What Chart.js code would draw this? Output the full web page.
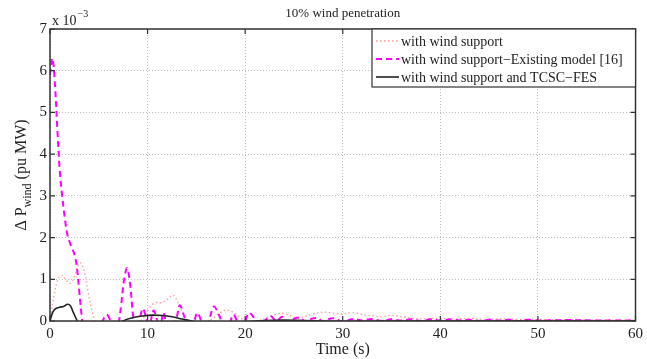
<!DOCTYPE html>
<html lang="en">
  <head>
    <meta charset="UTF-8" />
    <title>10% wind penetration</title>
    <script src="https://cdn.jsdelivr.net/npm/chart.js"></script>
    <style>
      body { margin: 0; background: #fff; }
      #wrap { width: 647px; height: 359px; }
    </style>
    <script>
      // values in units of 1e-3 pu MW; negative parts are clipped by the axis
      var tPink = [0, 0.4, 0.8, 1.2, 1.6, 2.0, 2.4, 2.8, 3.1, 3.5, 3.9, 4.3, 4.7, 5.5, 6.5, 7.5, 8.5, 9.3, 9.7, 10.1, 10.5, 11.0, 11.5, 12.0, 12.6, 13.0, 13.5, 14.0, 14.8, 15.8, 16.6, 17.3, 18.0, 18.7, 19.4, 20.0, 20.8, 21.6, 22.4, 23.2, 23.8, 24.5, 25.3, 26.0, 26.8, 27.6, 28.4, 29.2, 30.0, 30.8, 31.6, 32.4, 33.2, 34.0, 34.8, 35.6, 36.4, 37.2, 38.0, 39.0, 40.0, 41.5, 43, 44.5, 46, 48, 50, 52, 54, 56, 58, 60];
      var pink = [0, 0.6, 1.0, 1.1, 1.0, 0.9, 1.0, 1.3, 1.4, 1.2, 0.7, 0.25, -0.1, -0.5, -0.6, -0.4, -0.15, 0.0, 0.12, 0.28, 0.4, 0.45, 0.44, 0.52, 0.62, 0.5, 0.25, 0.0, -0.2, -0.1, 0.05, 0.18, 0.26, 0.22, 0.1, 0.0, -0.05, 0.02, 0.1, 0.16, 0.19, 0.14, 0.08, 0.1, 0.16, 0.2, 0.21, 0.18, 0.17, 0.2, 0.18, 0.14, 0.12, 0.1, 0.13, 0.12, 0.09, 0.06, 0.05, 0.06, 0.06, 0.05, 0.06, 0.04, 0.05, 0.04, 0.04, 0.03, 0.03, 0.02, 0.02, 0.02];

      var tMag = [0, 0.25, 0.5, 0.75, 1.0, 1.25, 1.5, 1.75, 2.0, 2.25, 2.5, 2.75, 3.0, 3.25, 3.5, 4.0, 4.5, 5.0, 5.4, 5.8, 6.2, 6.6, 7.0, 7.3, 7.6, 7.9, 8.2, 8.5, 8.8, 9.1, 9.5, 9.9, 10.2, 10.6, 11.0, 11.3, 11.6, 12.0, 12.5, 13.0, 13.3, 13.7, 14.2, 14.7, 15.1, 15.5, 16.0, 16.4, 16.8, 17.3, 17.8, 18.3, 18.8, 19.3, 19.8, 20.4, 21.0, 21.6, 22.2, 22.6, 23.2, 23.8, 24.4, 25.0, 25.6, 26.2, 26.8, 27.4, 28.0, 28.6, 29.2, 30, 31, 32, 33, 34, 35, 36, 37, 38, 39, 40, 41, 42, 43, 44, 45, 46, 47, 48, 49, 50, 52, 54, 56, 58, 60];
      var mag = [5.9, 6.3, 5.7, 4.6, 3.6, 3.0, 2.5, 2.1, 1.9, 1.75, 1.6, 1.3, 0.7, 0.1, -0.5, -0.9, -0.8, -0.3, 0.0, 0.15, 0.0, -0.4, -0.1, 0.4, 1.0, 1.27, 0.9, 0.15, -0.3, -0.1, 0.3, 0.05, -0.1, 0.25, 0.0, -0.2, 0.2, -0.1, -0.3, 0.1, 0.38, 0.15, -0.2, -0.05, 0.2, 0.0, -0.2, 0.1, 0.35, 0.15, -0.1, -0.1, 0.15, -0.05, -0.1, 0.2, 0.05, -0.1, 0.05, 0.12, 0.0, 0.1, -0.05, 0.05, 0.08, -0.03, 0.05, 0.07, -0.02, 0.05, 0.06, -0.02, 0.05, 0.01, 0.05, 0.0, 0.04, 0.01, 0.04, 0.0, 0.04, 0.01, 0.04, 0.01, 0.03, 0.0, 0.03, 0.01, 0.03, 0.0, 0.03, 0.01, 0.02, 0.02, 0.01, 0.01, 0.01];

      var tBlack = [0, 0.3, 0.6, 1.0, 1.4, 1.8, 2.1, 2.4, 2.8, 3.5, 4.5, 5.5, 6.5, 7.5, 8.5, 9.5, 10.5, 11.5, 12.5, 13.5, 14.5, 16, 18, 20, 22, 24, 26, 28, 30, 35, 40, 50, 60];
      var black = [0, 0.22, 0.3, 0.33, 0.35, 0.4, 0.36, 0.2, 0.0, -0.3, -0.45, -0.4, -0.2, 0.0, 0.08, 0.12, 0.14, 0.13, 0.1, 0.05, 0.0, -0.06, -0.05, -0.02, 0.01, 0.02, 0.01, 0.0, -0.01, 0.0, 0.0, 0.0, 0.0];

      var seriesNames = ["with wind support", "with wind support\u2212Existing model [16]", "with wind support and TCSC\u2212FES"];
      var xTicks = [0, 10, 20, 30, 40, 50, 60];
      var yTicks = [0, 1, 2, 3, 4, 5, 6, 7];
    </script>
  </head>
  <body>
    <div id="wrap"><canvas id="myChart" width="647" height="359"></canvas></div>
    <script>
      function pts(t, v) {
        return t.map(function (x, i) { return { x: x, y: v[i] }; });
      }

      var serif = "'Liberation Serif', 'DejaVu Serif', serif";

      var styles = [
        { color: "#ff9a9a", width: 1.3, dash: [1.5, 2.5] },
        { color: "#ff00ff", width: 2, dash: [6, 4] },
        { color: "#222222", width: 1.6, dash: [] },
      ];

      // title, frame, inner ticks, exponent, y title, legend
      var decor = {
        id: "decor",
        afterDraw: function (chart) {
          var ctx = chart.ctx;
          var a = chart.chartArea;
          var xs = chart.scales.x, ys = chart.scales.y;
          ctx.save();
          ctx.strokeStyle = "#333";
          ctx.lineWidth = 1.5;
          ctx.setLineDash([]);
          ctx.strokeRect(a.left, a.top, a.right - a.left, a.bottom - a.top);
          ctx.lineWidth = 1.2;
          ctx.beginPath();
          xTicks.forEach(function (v) {
            var px = xs.getPixelForValue(v);
            ctx.moveTo(px, a.bottom); ctx.lineTo(px, a.bottom - 5);
            ctx.moveTo(px, a.top); ctx.lineTo(px, a.top + 5);
          });
          yTicks.forEach(function (v) {
            var py = ys.getPixelForValue(v);
            ctx.moveTo(a.left, py); ctx.lineTo(a.left + 5, py);
            ctx.moveTo(a.right, py); ctx.lineTo(a.right - 5, py);
          });
          ctx.stroke();

          ctx.fillStyle = "#222";
          ctx.textBaseline = "alphabetic";
          ctx.textAlign = "center";
          ctx.font = "13px " + serif;
          ctx.fillText("10% wind penetration", (a.left + a.right) / 2, 17);

          ctx.textAlign = "left";
          ctx.font = "14px " + serif;
          ctx.fillText("x 10", a.left + 2, a.top - 4);
          var w = ctx.measureText("x 10").width;
          ctx.font = "10px " + serif;
          ctx.fillText("\u22123", a.left + 2 + w + 1, a.top - 12);

          // y axis title with subscript
          ctx.save();
          ctx.translate(26, (a.top + a.bottom) / 2);
          ctx.rotate(-Math.PI / 2);
          var p1 = "\u0394 P", p3 = " (pu MW)";
          ctx.font = "16px " + serif;
          var w1 = ctx.measureText(p1).width, w3 = ctx.measureText(p3).width;
          ctx.font = "12px " + serif;
          var w2 = ctx.measureText("wind").width;
          var x0 = -(w1 + w2 + w3) / 2;
          ctx.font = "16px " + serif;
          ctx.fillText(p1, x0, 0);
          ctx.font = "12px " + serif;
          ctx.fillText("wind", x0 + w1, 5);
          ctx.font = "16px " + serif;
          ctx.fillText(p3, x0 + w1 + w2, 0);
          ctx.restore();

          // legend box
          var lx = 372, ly = a.top, lw = a.right - lx, lh = 58;
          ctx.fillStyle = "#fff";
          ctx.fillRect(lx, ly, lw, lh);
          ctx.strokeStyle = "#333";
          ctx.lineWidth = 1.2;
          ctx.strokeRect(lx, ly, lw, lh);
          ctx.font = "14px " + serif;
          ctx.textBaseline = "middle";
          seriesNames.forEach(function (name, i) {
            var yy = ly + 12 + i * 18;
            var s = styles[i];
            ctx.strokeStyle = s.color;
            ctx.lineWidth = s.width;
            ctx.setLineDash(s.dash);
            ctx.beginPath();
            ctx.moveTo(lx + 4, yy); ctx.lineTo(lx + 27, yy);
            ctx.stroke();
            ctx.setLineDash([]);
            ctx.fillStyle = "#222";
            ctx.fillText(name, lx + 29, yy + 1);
          });
          ctx.restore();
        },
      };

      var ctx = document.getElementById("myChart").getContext("2d");
      var myChart = new Chart(ctx, {
        type: "line",
        data: {
          datasets: [
            { label: seriesNames[0], data: pts(tPink, pink), order: 3 },
            { label: seriesNames[1], data: pts(tMag, mag), order: 2 },
            { label: seriesNames[2], data: pts(tBlack, black), order: 1 },
          ].map(function (d, i) {
            d.borderColor = styles[i].color;
            d.borderWidth = styles[i].width;
            d.borderDash = styles[i].dash;
            d.pointRadius = 0;
            d.fill = false;
            d.tension = 0.35;
            return d;
          }),
        },
        options: {
          responsive: false,
          animation: false,
          layout: { padding: { top: 29, right: 10, left: 0, bottom: 0 } },
          plugins: {
            legend: { display: false },
            tooltip: { enabled: false },
            title: { display: false },
          },
          scales: {
            x: {
              type: "linear",
              min: 0,
              max: 60,
              afterBuildTicks: function (s) { s.ticks = xTicks.map(function (v) { return { value: v }; }); },
              afterFit: function (s) { s.height = 38; },
              grid: { color: "#bdbdbd", drawTicks: false, lineWidth: 1 },
              border: { display: false, dash: [1, 2] },
              ticks: { color: "#222", padding: 4, font: { family: serif, size: 15 }, maxRotation: 0 },
              title: {
                display: true,
                text: "Time (s)",
                color: "#222",
                font: { family: serif, size: 16 },
                padding: { top: -2, bottom: 0 },
              },
            },
            y: {
              min: 0,
              max: 7,
              afterBuildTicks: function (s) { s.ticks = yTicks.map(function (v) { return { value: v }; }); },
              afterFit: function (s) { s.width = 50; },
              grid: { color: "#bdbdbd", drawTicks: false, lineWidth: 1 },
              border: { display: false, dash: [1, 2] },
              ticks: { color: "#222", padding: 3, font: { family: serif, size: 15 } },
            },
          },
        },
        plugins: [decor],
      });
    </script>
  </body>
</html>
